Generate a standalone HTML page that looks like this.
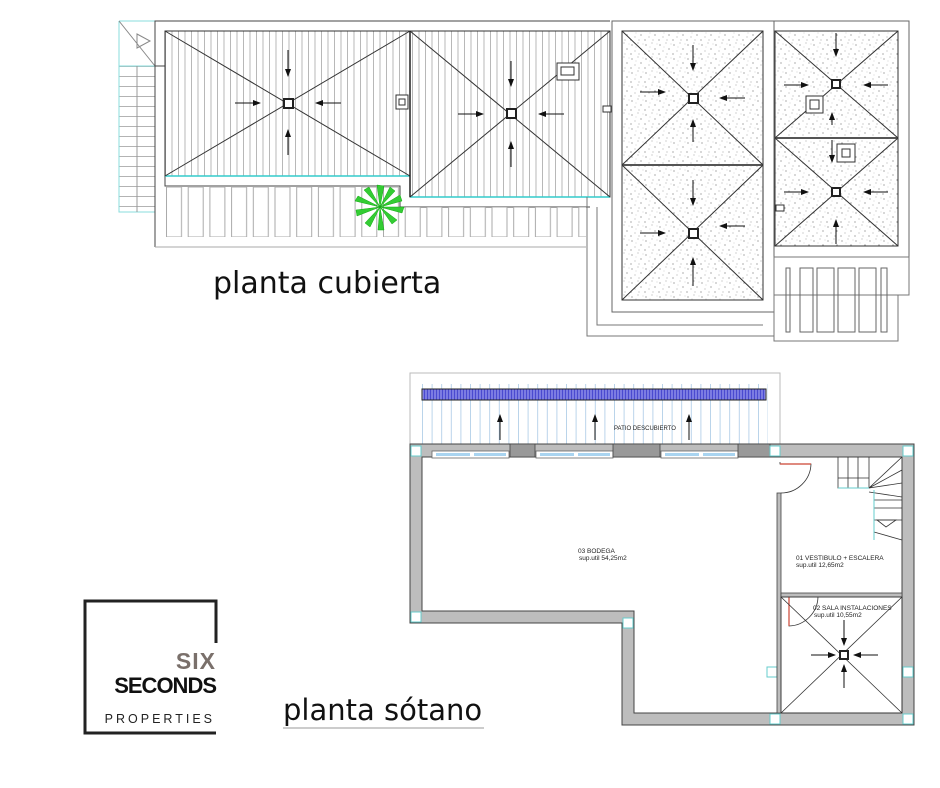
<!DOCTYPE html>
<html><head><meta charset="utf-8"><style>
html,body{margin:0;padding:0;background:#fff;width:940px;height:788px;overflow:hidden}
svg{display:block}
</style></head><body>
<svg width="940" height="788" viewBox="0 0 940 788" xmlns="http://www.w3.org/2000/svg" font-family="Liberation Sans, sans-serif">
<defs>
<marker id="ar" markerWidth="8" markerHeight="6" refX="7" refY="3" orient="auto" markerUnits="userSpaceOnUse"><path d="M0,0 L8,3 L0,6 z" fill="#111"/></marker>
<pattern id="vh" width="6.5" height="10" patternUnits="userSpaceOnUse"><line x1="3" y1="0" x2="3" y2="10" stroke="#999" stroke-width="0.7"/></pattern>
<pattern id="sp" width="14" height="14" patternUnits="userSpaceOnUse">
<circle cx="2" cy="3" r="0.6" fill="#777"/><circle cx="8" cy="1" r="0.5" fill="#888"/><circle cx="11" cy="7" r="0.6" fill="#777"/><circle cx="5" cy="9" r="0.5" fill="#888"/><circle cx="1" cy="12" r="0.6" fill="#777"/><circle cx="9" cy="12" r="0.5" fill="#888"/><circle cx="13" cy="2" r="0.4" fill="#999"/><circle cx="6" cy="5" r="0.4" fill="#999"/></pattern>
<pattern id="sl" x="166" y="187" width="21.7" height="60" patternUnits="userSpaceOnUse"><rect x="0.5" y="0" width="15" height="50" fill="none" stroke="#aaa" stroke-width="1"/></pattern>
<pattern id="sl2" x="166" y="207" width="21.7" height="60" patternUnits="userSpaceOnUse"><rect x="0.5" y="0" width="15" height="30" fill="none" stroke="#aaa" stroke-width="1"/></pattern>
<pattern id="st" x="0" y="66" width="40" height="10" patternUnits="userSpaceOnUse"><line x1="0" y1="0.5" x2="40" y2="0.5" stroke="#999" stroke-width="0.8"/></pattern>
<pattern id="pv" x="422" width="9.6" height="10" patternUnits="userSpaceOnUse"><line x1="0.5" y1="0" x2="0.5" y2="10" stroke="#a9c9e6" stroke-width="0.8"/></pattern>
<pattern id="bb" x="422" width="3" height="10" patternUnits="userSpaceOnUse"><rect width="3" height="10" fill="#4a4ad0"/><line x1="1" y1="0" x2="1" y2="10" stroke="#c8c8ff" stroke-width="0.8"/></pattern>
</defs>

<g fill="none" stroke="#555" stroke-width="1">
<rect x="119" y="66" width="36" height="146" fill="url(#st)" stroke="#8dd" />
<line x1="137" y1="66" x2="137" y2="212" stroke="#999"/>
<line x1="119" y1="21" x2="119" y2="66" stroke="#8dd"/>
<line x1="119" y1="21" x2="155" y2="21" stroke="#8dd"/>
<line x1="119" y1="21" x2="155" y2="66" stroke="#888"/>
<path d="M137,34 L150,41 L137,48 Z" stroke="#888"/>
<path d="M155,247 L155,21 L610,21" stroke="#444"/>
<line x1="155" y1="247" x2="586" y2="247" stroke="#aaa"/>
<path d="M155,66 L165,66 L165,186 L400,186 L400,207 L590,207" stroke="#444"/>
<rect x="166" y="187" width="234" height="50" fill="url(#sl)" stroke="none"/>
<rect x="400" y="207" width="186" height="30" fill="url(#sl2)" stroke="none"/>
<rect x="165" y="31" width="245" height="145" fill="url(#vh)" stroke="#333"/>
<line x1="165" y1="176" x2="410" y2="176" stroke="#3cc" stroke-width="1.5"/>
<line x1="165" y1="31" x2="410" y2="176" stroke="#333"/><line x1="410" y1="31" x2="165" y2="176" stroke="#333"/>
<rect x="410" y="31" width="200" height="166" fill="url(#vh)" stroke="#333"/>
<line x1="410" y1="197" x2="610" y2="197" stroke="#3cc" stroke-width="1.5"/>
<line x1="410" y1="31" x2="610" y2="197" stroke="#333"/><line x1="610" y1="31" x2="410" y2="197" stroke="#333"/>
<line x1="410" y1="31" x2="410" y2="197" stroke="#222" stroke-width="1.5"/>
<path d="M587,197 L587,336 L774,336" stroke="#777"/>
<path d="M597,207 L597,325 L763,325" stroke="#777"/>
<rect x="612" y="21" width="162" height="291" fill="#fff" stroke="#666"/>
<rect x="622" y="31" width="141" height="269" fill="url(#sp)" stroke="#333"/>
<line x1="622" y1="165" x2="763" y2="165" stroke="#555" stroke-width="2"/>
<path d="M622,31 L763,165 M763,31 L622,165 M622,165 L763,300 M763,165 L622,300" stroke="#333"/>
<rect x="774" y="21" width="135" height="236" fill="#fff" stroke="#666"/>
<rect x="775" y="31" width="123" height="215" fill="url(#sp)" stroke="#333"/>
<line x1="775" y1="138" x2="898" y2="138" stroke="#555" stroke-width="2"/>
<path d="M775,31 L898,138 M898,31 L775,138 M775,138 L898,246 M898,138 L775,246" stroke="#333"/>
<rect x="774" y="257" width="135" height="38" stroke="#777"/>
<rect x="774" y="295" width="124" height="46" stroke="#777"/>
<g stroke="#666"><rect x="786" y="268" width="4" height="64"/><rect x="800" y="268" width="13" height="64"/><rect x="817" y="268" width="17" height="64"/><rect x="838" y="268" width="17" height="64"/><rect x="859" y="268" width="17" height="64"/><rect x="881" y="268" width="6" height="64"/></g>
</g>
<g fill="#fff" stroke="#222" stroke-width="2">
<rect x="284" y="99" width="9" height="9"/><rect x="507" y="109" width="9" height="9"/>
<rect x="689" y="94" width="9" height="9"/><rect x="689" y="229" width="9" height="9"/>
<rect x="832" y="80" width="8" height="8"/><rect x="832" y="188" width="8" height="8"/>
</g>
<g fill="#fff" stroke="#333" stroke-width="1">
<rect x="396" y="95" width="12" height="14"/><rect x="399" y="99" width="6" height="6"/>
<rect x="557" y="63" width="22" height="17"/><rect x="561" y="67" width="13" height="8"/>
<rect x="603" y="106" width="8" height="6"/>
<rect x="806" y="96" width="17" height="17"/><rect x="810" y="100" width="9" height="9"/>
<rect x="837" y="144" width="18" height="18"/><rect x="842" y="149" width="8" height="8"/>
<rect x="776" y="205" width="8" height="6"/>
</g>
<g stroke="#111" stroke-width="1" marker-end="url(#ar)">
<line x1="288" y1="50" x2="288" y2="76"/><line x1="288" y1="155" x2="288" y2="130"/><line x1="235" y1="103" x2="260" y2="103"/><line x1="341" y1="103" x2="316" y2="103"/>
<line x1="511" y1="61" x2="511" y2="86"/><line x1="511" y1="167" x2="511" y2="142"/><line x1="458" y1="114" x2="483" y2="114"/><line x1="564" y1="114" x2="539" y2="114"/>
<line x1="693" y1="45" x2="693" y2="70"/><line x1="693" y1="142" x2="693" y2="120"/><line x1="640" y1="92" x2="665" y2="92"/><line x1="745" y1="98" x2="720" y2="98"/>
<line x1="693" y1="180" x2="693" y2="205"/><line x1="693" y1="286" x2="693" y2="258"/><line x1="640" y1="233" x2="665" y2="233"/><line x1="745" y1="226" x2="720" y2="226"/>
<line x1="836" y1="33" x2="836" y2="56"/><line x1="784" y1="85" x2="808" y2="85"/><line x1="888" y1="85" x2="864" y2="85"/>
<line x1="832" y1="125" x2="832" y2="113"/><line x1="832" y1="140" x2="832" y2="162"/>
<line x1="784" y1="192" x2="808" y2="192"/><line x1="888" y1="192" x2="864" y2="192"/><line x1="836" y1="244" x2="836" y2="220"/>
</g>
<g fill="#3c3" stroke="#1a1" stroke-width="0.5">
<path d="M380,207 L377,185 L384,186 Z"/><path d="M380,207 L390,187 L395,191 Z"/><path d="M380,207 L400,195 L402,201 Z"/><path d="M380,207 L404,207 L402,213 Z"/><path d="M380,207 L397,220 L392,224 Z"/><path d="M380,207 L384,230 L378,230 Z"/><path d="M380,207 L370,227 L365,223 Z"/><path d="M380,207 L357,216 L356,210 Z"/><path d="M380,207 L355,201 L358,196 Z"/><path d="M380,207 L364,190 L369,187 Z"/>
</g>
<text x="213" y="293" font-size="30" fill="#111" font-family="DejaVu Sans, sans-serif">planta cubierta</text>

<rect x="410" y="373" width="370" height="72" fill="none" stroke="#bbb"/>
<rect x="422" y="384" width="346" height="62" fill="url(#pv)"/>
<rect x="422" y="389" width="344" height="11" fill="url(#bb)" stroke="#222" stroke-width="1"/>
<g stroke="#111" marker-end="url(#ar)"><line x1="500" y1="440" x2="500" y2="415"/><line x1="595" y1="440" x2="595" y2="415"/><line x1="689" y1="440" x2="689" y2="415"/></g>
<text x="614" y="430" font-size="6" fill="#222">PATIO DESCUBIERTO</text>
<g fill="#bdbdbd" stroke="#444" stroke-width="1">
<path d="M410,444 L914,444 L914,725 L622,725 L622,623 L410,623 Z M422,457 L422,611 L634,611 L634,713 L902,713 L902,457 Z" fill-rule="evenodd"/>
</g>
<g fill="#fff" stroke="#666" stroke-width="0.8">
<rect x="432" y="451" width="77" height="7"/><rect x="536" y="451" width="77" height="7"/><rect x="661" y="451" width="77" height="7"/>
</g>
<g fill="#a9d4f0"><rect x="436" y="453" width="34" height="3"/><rect x="474" y="453" width="32" height="3"/><rect x="540" y="453" width="34" height="3"/><rect x="578" y="453" width="32" height="3"/><rect x="665" y="453" width="34" height="3"/><rect x="703" y="453" width="32" height="3"/></g>
<g fill="#999" stroke="#444" stroke-width="0.8"><rect x="510" y="444" width="25" height="13"/><rect x="613" y="444" width="47" height="13"/><rect x="738" y="444" width="32" height="13"/></g>
<g fill="#fff" stroke="#6cc" stroke-width="1">
<rect x="411" y="446" width="10" height="10"/><rect x="770" y="446" width="10" height="10"/><rect x="903" y="446" width="10" height="10"/><rect x="411" y="612" width="10" height="10"/><rect x="623" y="618" width="10" height="10"/><rect x="767" y="667" width="10" height="10"/><rect x="903" y="667" width="10" height="10"/><rect x="770" y="714" width="10" height="10"/><rect x="903" y="714" width="10" height="10"/>
</g>
<g fill="#bdbdbd" stroke="#444" stroke-width="0.8">
<rect x="777" y="493" width="4" height="220"/><rect x="781" y="593" width="121" height="4"/>
</g>
<path d="M780,462 L780,464 L811,464 A30,30 0 0 1 781,493" fill="none" stroke="#333" stroke-width="0.8"/>
<line x1="780" y1="464" x2="811" y2="464" stroke="#c43" stroke-width="1.2"/>
<path d="M789,597 L789,626 A30,30 0 0 0 818,597" fill="none" stroke="#333" stroke-width="0.8"/>
<line x1="789" y1="597" x2="789" y2="626" stroke="#c43" stroke-width="1.2"/>
<g fill="none" stroke="#333" stroke-width="0.8">
<path d="M838,457 L838,488 L869,488 L869,457 M848,457 L848,488 M858,457 L858,488 M838,478 L869,478"/>
<path d="M869,488 L902,457 M869,488 L902,470 M869,488 L902,483 M869,492 L902,497 M874,508 L902,508 M874,520 L902,520 M874,532 L902,540 M874,500 L902,500"/>
<path d="M877,520 L896,520 L886,527 Z"/>
</g>
<line x1="874" y1="490" x2="874" y2="540" stroke="#6cc"/>
<line x1="838" y1="488" x2="869" y2="488" stroke="#6cc"/>
<rect x="781" y="597" width="121" height="116" fill="none" stroke="#333" stroke-width="0.8"/>
<path d="M781,597 L902,713 M902,597 L781,713" stroke="#333" stroke-width="0.8"/>
<rect x="840" y="651" width="8" height="8" fill="#fff" stroke="#222" stroke-width="2"/>
<g stroke="#111" marker-end="url(#ar)"><line x1="844" y1="620" x2="844" y2="645"/><line x1="844" y1="688" x2="844" y2="665"/><line x1="811" y1="655" x2="835" y2="655"/><line x1="878" y1="655" x2="854" y2="655"/></g>
<g font-size="6.5" fill="#222">
<text x="578" y="553">03 BODEGA</text><text x="579" y="560">sup.util 54,25m2</text>
<text x="796" y="560">01 VESTIBULO + ESCALERA</text><text x="796" y="567">sup.util 12,65m2</text>
<text x="813" y="610">02 SALA INSTALACIONES</text><text x="814" y="617">sup.util 10,55m2</text>
</g>

<path d="M216,643 L216,601 L85,601 L85,733 L216,733" fill="none" stroke="#222" stroke-width="3"/>
<text x="216" y="669" font-size="23" font-weight="bold" fill="#7a706b" text-anchor="end" letter-spacing="1">SIX</text>
<text x="216" y="693" font-size="22" font-weight="bold" fill="#111" text-anchor="end" letter-spacing="-1">SECONDS</text>
<text x="215" y="723" font-size="12.5" fill="#222" text-anchor="end" letter-spacing="3">PROPERTIES</text>
<text x="283" y="720" font-size="29" fill="#111" font-family="DejaVu Sans, sans-serif">planta sótano</text>
<line x1="283" y1="728" x2="484" y2="728" stroke="#999" stroke-width="1"/>
</svg>
</body></html>
